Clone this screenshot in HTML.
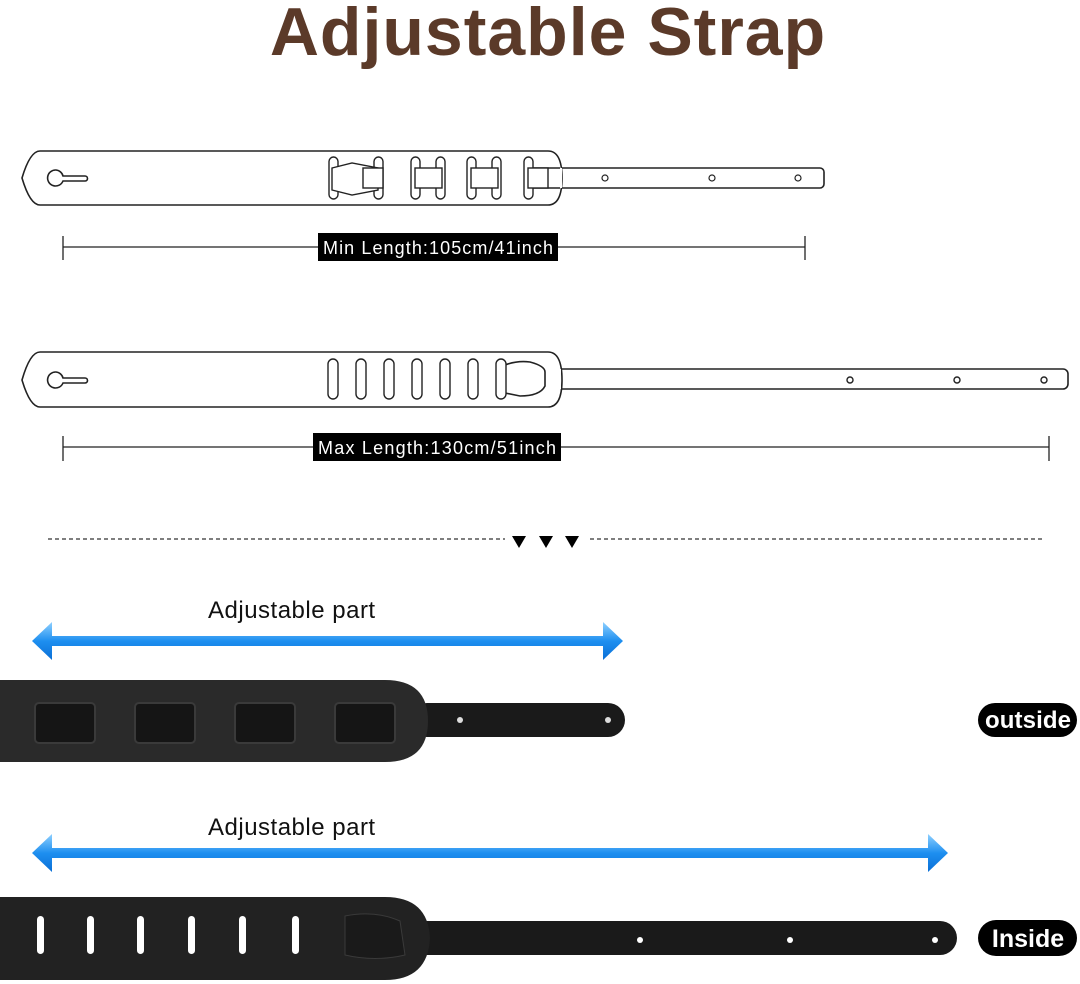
<!DOCTYPE html>
<html><head><style>
html,body{margin:0;padding:0;background:#fff;}
svg{display:block;font-family:"Liberation Sans",sans-serif;}
</style></head><body>
<svg width="1080" height="984" viewBox="0 0 1080 984">
<defs>
<linearGradient id="bl" x1="0" y1="0" x2="0" y2="1">
<stop offset="0" stop-color="#8fd0ff"/><stop offset="0.5" stop-color="#1e8ff0"/><stop offset="1" stop-color="#0a6fd6"/>
</linearGradient>
</defs>
<text x="548" y="55" text-anchor="middle" font-size="68" font-weight="bold" fill="#5b3a29" letter-spacing="1">Adjustable Strap</text>

<!-- strap 1 -->
<g fill="#fff" stroke="#222" stroke-width="1.6">
<rect x="528" y="168" width="296" height="20" rx="4"/>
<path d="M40 151 L548 151 Q562 151 562 178 Q562 205 548 205 L40 205 Q30 205 22 178 Q30 151 40 151 Z"/>
<rect x="528" y="168" width="34" height="20" stroke="none"/>
<line x1="528" y1="168" x2="560" y2="168"/><line x1="528" y1="188" x2="560" y2="188"/>
<path d="M56 170 a8 8 0 1 0 7 11 l22 0 a2.5 2.5 0 0 0 0 -5 l-22 0 a8 8 0 0 0 -7 -6z"/>
</g>
<g fill="#fff" stroke="#222" stroke-width="1.4">
<rect x="329" y="157" width="9" height="42" rx="4.5"/><rect x="374" y="157" width="9" height="42" rx="4.5"/>
<rect x="411" y="157" width="9" height="42" rx="4.5"/><rect x="436" y="157" width="9" height="42" rx="4.5"/>
<rect x="467" y="157" width="9" height="42" rx="4.5"/><rect x="492" y="157" width="9" height="42" rx="4.5"/>
<rect x="524" y="157" width="9" height="42" rx="4.5"/>
<path d="M332 168 L352 163 L378 168 L378 190 L352 195 L332 190 Z"/>
<rect x="363" y="168" width="20" height="20"/>
<rect x="415" y="168" width="27" height="20"/><rect x="471" y="168" width="27" height="20"/>
<rect x="528" y="168" width="20" height="20"/>
</g>
<g fill="#fff" stroke="#222" stroke-width="1.2">
<circle cx="605" cy="178" r="3"/><circle cx="712" cy="178" r="3"/><circle cx="798" cy="178" r="3"/>
</g>
<g stroke="#222" stroke-width="1.3">
<line x1="63" y1="247" x2="805" y2="247"/><line x1="63" y1="236" x2="63" y2="260"/><line x1="805" y1="236" x2="805" y2="260"/>
</g>
<rect x="318" y="233" width="240" height="28" fill="#000"/>
<text x="438" y="254" text-anchor="middle" font-size="18" fill="#fff" textLength="230">Min Length:105cm/41inch</text>

<!-- strap 2 -->
<g fill="#fff" stroke="#222" stroke-width="1.6">
<rect x="545" y="369" width="523" height="20" rx="5"/>
<path d="M40 352 L548 352 Q562 352 562 380 Q562 407 548 407 L40 407 Q30 407 22 380 Q30 352 40 352 Z"/>
<rect x="545" y="369" width="16" height="20" stroke="none"/>
<path d="M56 372 a8 8 0 1 0 7 11 l22 0 a2.5 2.5 0 0 0 0 -5 l-22 0 a8 8 0 0 0 -7 -6z"/>
<path d="M500 367 Q515 360 530 362 Q545 366 545 372 L545 386 Q540 396 520 396 L500 392 Z"/>
</g>
<g fill="#fff" stroke="#222" stroke-width="1.4">
<rect x="328" y="359" width="10" height="40" rx="5"/><rect x="356" y="359" width="10" height="40" rx="5"/>
<rect x="384" y="359" width="10" height="40" rx="5"/><rect x="412" y="359" width="10" height="40" rx="5"/>
<rect x="440" y="359" width="10" height="40" rx="5"/><rect x="468" y="359" width="10" height="40" rx="5"/>
<rect x="496" y="359" width="10" height="40" rx="5"/>
<circle cx="850" cy="380" r="3"/><circle cx="957" cy="380" r="3"/><circle cx="1044" cy="380" r="3"/>
</g>
<g stroke="#222" stroke-width="1.3">
<line x1="63" y1="447" x2="1049" y2="447"/><line x1="63" y1="436" x2="63" y2="461"/><line x1="1049" y1="436" x2="1049" y2="461"/>
</g>
<rect x="313" y="433" width="248" height="28" fill="#000"/>
<text x="437" y="454" text-anchor="middle" font-size="18" fill="#fff" textLength="238">Max Length:130cm/51inch</text>

<!-- divider -->
<g stroke="#333" stroke-width="1.2" stroke-dasharray="4 3">
<line x1="48" y1="539" x2="505" y2="539"/><line x1="590" y1="539" x2="1044" y2="539"/>
</g>
<g fill="#000">
<path d="M512 536 L526 536 L519 548Z"/><path d="M539 536 L553 536 L546 548Z"/><path d="M565 536 L579 536 L572 548Z"/>
</g>

<!-- adjustable part 1 -->
<text x="208" y="618" font-size="24" fill="#111" letter-spacing="0.5">Adjustable part</text>
<path d="M32 641 L52 622 L52 636 L603 636 L603 622 L623 641 L603 660 L603 646 L52 646 L52 660 Z" fill="url(#bl)"/>
<rect x="410" y="703" width="215" height="34" rx="17" fill="#1a1a1a"/>
<path d="M0 680 L385 680 Q428 680 428 721 Q428 762 385 762 L0 762 Z" fill="#2a2a2a"/>
<g fill="#151515" stroke="#3a3a3a" stroke-width="2">
<rect x="35" y="703" width="60" height="40" rx="4"/><rect x="135" y="703" width="60" height="40" rx="4"/>
<rect x="235" y="703" width="60" height="40" rx="4"/><rect x="335" y="703" width="60" height="40" rx="4"/>
</g>
<circle cx="460" cy="720" r="3" fill="#ddd"/><circle cx="608" cy="720" r="3" fill="#ddd"/>
<rect x="978" y="703" width="99" height="34" rx="17" fill="#000"/>
<text x="1028" y="728" text-anchor="middle" font-size="24" font-weight="bold" fill="#fff" textLength="86">outside</text>

<!-- adjustable part 2 -->
<text x="208" y="835" font-size="24" fill="#111" letter-spacing="0.5">Adjustable part</text>
<path d="M32 853 L52 834 L52 848 L928 848 L928 834 L948 853 L928 872 L928 858 L52 858 L52 872 Z" fill="url(#bl)"/>
<rect x="400" y="921" width="557" height="34" rx="17" fill="#1a1a1a"/>
<path d="M0 897 L385 897 Q428 897 430 938 Q428 980 385 980 L0 980 Z" fill="#222"/>
<path d="M345 916 Q375 910 400 921 L405 955 Q375 962 345 955 Z" fill="#1a1a1a" stroke="#3a3a3a"/>
<g fill="#fff">
<rect x="37" y="916" width="7" height="38" rx="3.5"/><rect x="87" y="916" width="7" height="38" rx="3.5"/>
<rect x="137" y="916" width="7" height="38" rx="3.5"/><rect x="188" y="916" width="7" height="38" rx="3.5"/>
<rect x="239" y="916" width="7" height="38" rx="3.5"/><rect x="292" y="916" width="7" height="38" rx="3.5"/>
<circle cx="640" cy="940" r="3"/><circle cx="790" cy="940" r="3"/><circle cx="935" cy="940" r="3"/>
</g>
<rect x="978" y="920" width="99" height="36" rx="18" fill="#000"/>
<text x="1028" y="947" text-anchor="middle" font-size="25" font-weight="bold" fill="#fff">Inside</text>
</svg>
</body></html>
